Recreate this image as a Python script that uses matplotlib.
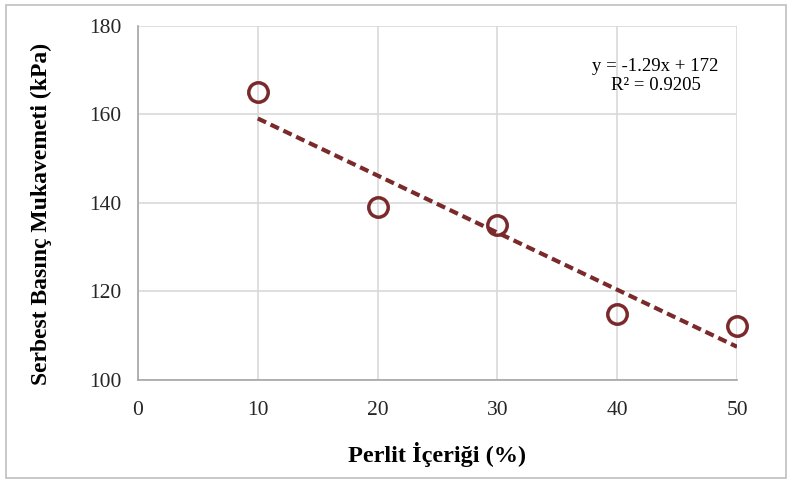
import numpy as np
import matplotlib.pyplot as plt
from matplotlib.patches import Rectangle

# data
perlit = [10, 20, 30, 40, 50]
strength = [165, 139, 135, 115, 112.3]
slope, intercept = -1.29, 172
x_ticks = [0, 10, 20, 30, 40, 50]
y_ticks = [100, 120, 140, 160, 180]

color = '#7a2a2a'
grid_color = '#d9d9d9'

plt.rcParams['font.family'] = ['Liberation Serif', 'DejaVu Serif']

fig = plt.figure(figsize=(7.92, 4.83), dpi=100)
ax = fig.add_axes([0.1742, 0.2133, 0.7564, 0.7329])

# trendline
xt = np.array([perlit[0], perlit[-1]])
ax.plot(xt, slope * xt + intercept, ls=(0, (2.2, 1.2)), lw=3, color=color, zorder=3)

ax.plot(perlit, strength, 'o', ms=14, mfc='none', mec=color, mew=2.5, zorder=4,
        clip_on=False)

ax.set_xlim(0, 50)
ax.set_ylim(100, 180)
ax.set_xticks(x_ticks)
ax.set_yticks(y_ticks)
ax.grid(True, color=grid_color, lw=1.2)
ax.set_axisbelow(True)
ax.tick_params(length=0, labelsize=15.5, colors='#262626')
ax.tick_params(axis='x', pad=15)
ax.tick_params(axis='y', pad=12)
for s in ['top', 'right']:
    ax.spines[s].set_visible(False)
for s in ['left', 'bottom']:
    ax.spines[s].set_color('#a6a6a6')
    ax.spines[s].set_linewidth(1.2)

ax.set_xlabel('Perlit İçeriği (%)', fontsize=17.5, fontweight='bold', labelpad=16)
ax.set_ylabel('Serbest Basınç Mukavemeti (kPa)', fontsize=17, fontweight='bold')
ax.yaxis.set_label_coords(-0.143, 0.47)

ax.text(43.2, 168.7, 'y = -1.29x + 172\nR² = 0.9205', ha='center', va='center',
        multialignment='center', fontsize=13.5, linespacing=1.15)

# outer frame
fig.patches.append(Rectangle((0.008, 0.01), 0.985, 0.98, transform=fig.transFigure,
                             fill=False, ec='#bfbfbf', lw=1.2))

fig.savefig('out.png', dpi=100)
